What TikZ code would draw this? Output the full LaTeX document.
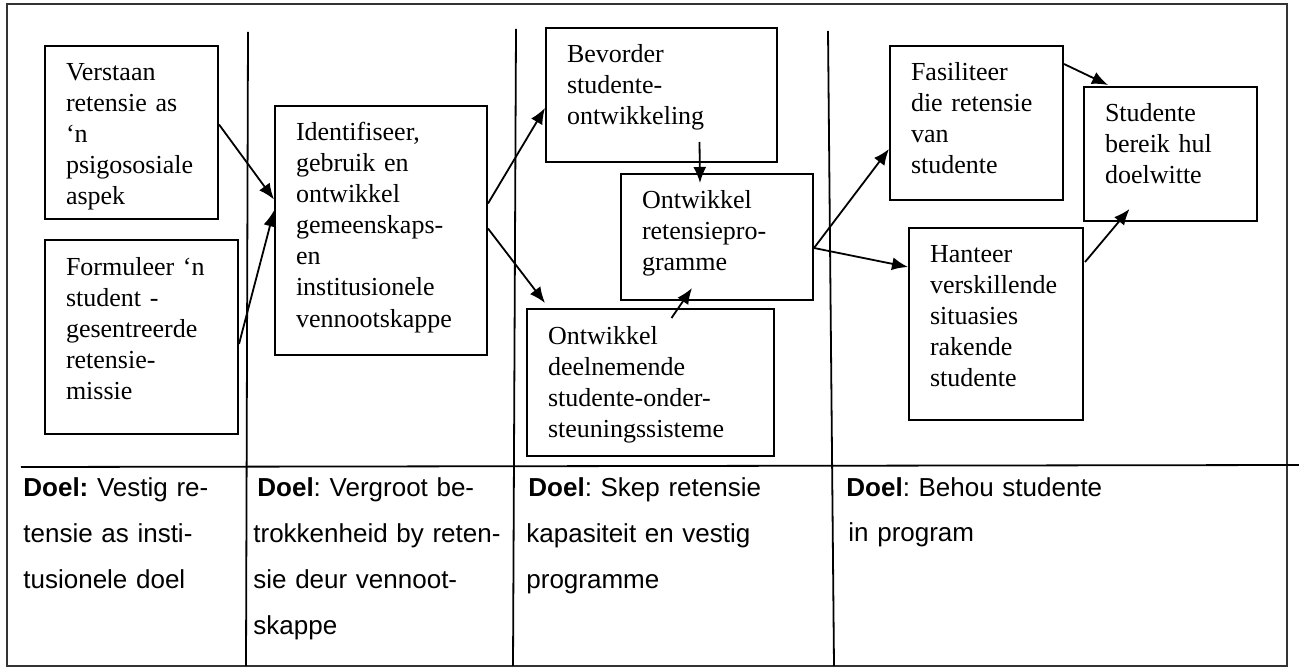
\documentclass[tikz,border=0pt]{standalone}
\usepackage{fontspec}
\setmainfont{Liberation Serif}
\setsansfont{Liberation Sans}
\usepackage{tikz}
\usetikzlibrary{arrows,arrows.meta,calc,positioning}
\frenchspacing

\begin{document}
\begin{tikzpicture}[x = 0.5pt, y = -0.5pt, >={Latex[length=8pt,width=6.5pt]}]
	\tikzstyle{every node} = [inner sep = 0pt]
	\tikzstyle{stap} = [draw = black, line width = 1pt, anchor = north west, align = left, inner xsep = 10.5pt, inner ysep = 0pt, text height = 17.5pt, font = \fontsize{13}{15.5}\selectfont]
	\tikzstyle{doel} = [anchor = base west, align = left, text width = 200pt, font = \sffamily\fontsize{13}{23}\selectfont]
	\tikzstyle{pyl} = [draw = black, line width = 0.9pt, ->]
\useasboundingbox (0,0) rectangle (1299,668);
% raam en kolomme
\draw[line width = 0.9pt, black!80] (7,4) rectangle (1287,666);
\draw[line width = 0.9pt] (21,467) -- (1299,465);
\draw[line width = 0.9pt] (248,32) -- (246,666);
\draw[line width = 0.9pt] (516,29) -- (513,666);
\draw[line width = 0.9pt] (828,31) -- (834,666);
% stappe
\node[stap, text width = 65.5pt, text depth = 69pt] (verstaan) at (44,45) {Verstaan\\retensie as\\‘n\\psigososiale\\aspek};
\node[stap, text width = 75.5pt, text depth = 79.5pt] (formuleer) at (44,239) {Formuleer ‘n\\student -\\gesentreerde\\retensie-\\missie};
\node[stap, text width = 85pt, text depth = 107pt] (identifiseer) at (274,105) {Identifiseer,\\gebruik en\\ontwikkel\\gemeenskaps-\\en\\institusionele\\vennootskappe};
\node[stap, text width = 94.5pt, text depth = 49.5pt] (bevorder) at (545,27) {Bevorder\\studente-\\ontwikkeling};
\node[stap, text width = 75pt, text depth = 45.5pt] (program) at (620,173) {Ontwikkel\\retensiepro-\\gramme};
\node[stap, text width = 102.5pt, text depth = 56pt] (deelnemend) at (526,308) {Ontwikkel\\deelnemende\\studente-onder-\\steuningssisteme};
\node[stap, text width = 65.5pt, text depth = 59.5pt] (fasiliteer) at (889,45) {Fasiliteer\\die retensie\\van\\studente};
\node[stap, text width = 65.5pt, text depth = 49.5pt] (bereik) at (1083,86) {Studente\\bereik hul\\doelwitte};
\node[stap, text width = 66pt, text depth = 78.5pt] (hanteer) at (908,227) {Hanteer\\verskillende\\situasies\\rakende\\studente};
% pyle
\path[pyl] ([shift={(0,-8)}]verstaan.east) -- ([shift={(0,-31)}]identifiseer.west);
\path[pyl] ([shift={(0,7)}]formuleer.east) -- ([shift={(0,-20)}]identifiseer.west);
\path[pyl] ([shift={(0,-27)}]identifiseer.east) -- ([shift={(0,13)}]bevorder.west);
\path[pyl] ([shift={(0,-2)}]identifiseer.east) -- ([shift={(19,-5)}]deelnemend.north west);
\path[pyl] ([shift={(38,-21)}]bevorder.south) -- ([shift={(-17,10)}]program.north);
\path[pyl] ([shift={(21,10)}]deelnemend.north) -- ([shift={(-25,-13)}]program.south);
\path[pyl] ([shift={(0,11)}]program.east) -- ([shift={(0,26)}]fasiliteer.west);
\path[pyl] ([shift={(0,11)}]program.east) -- ([shift={(0,-57)}]hanteer.west);
\path[pyl] ([shift={(0,19)}]fasiliteer.north east) -- ([shift={(25,-1)}]bereik.north west);
\path[pyl] ([shift={(1,35)}]hanteer.north east) -- ([shift={(-41,-13)}]bereik.south);
% doelwitte
\node[doel] (doel1) at (23,496) {\textbf{Doel:} Vestig re-\\tensie as insti-\\tusionele doel};
\node[doel] (doel2) at (253,496) {\hspace{2pt}\textbf{Doel}: Vergroot be-\\trokkenheid by reten-\\sie deur vennoot-\\skappe};
\node[doel] (doel3) at (526,496) {\hspace{1pt}\textbf{Doel}: Skep retensie\\kapasiteit en vestig\\programme};
\node[doel] (doel4) at (846,496) {\textbf{Doel}: Behou studente\\[-0.5pt]\hspace{1pt}in program};
\end{tikzpicture}
\end{document}
